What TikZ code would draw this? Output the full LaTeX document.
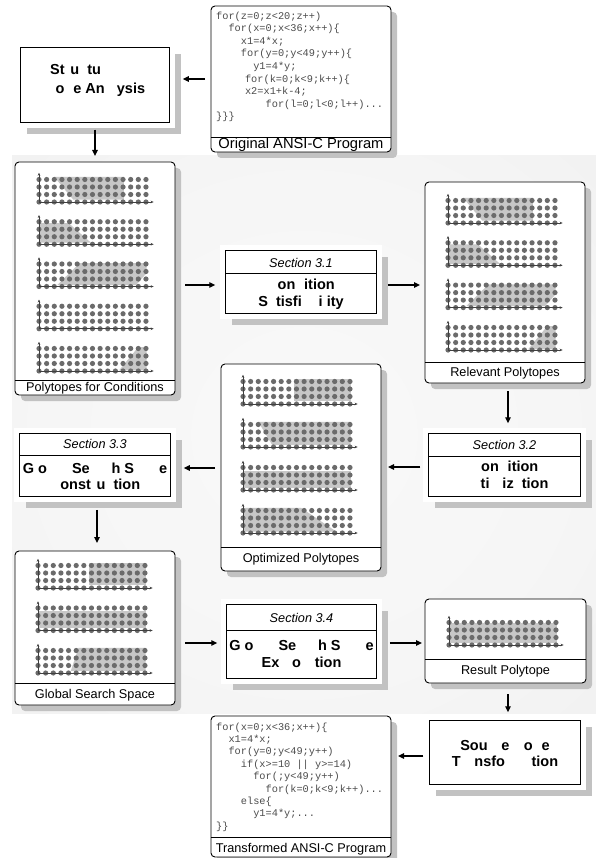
\documentclass[tikz,border=0pt]{standalone}
\usepackage{fontspec}
\setmainfont{Liberation Sans}
\setmonofont{Liberation Mono}
\usetikzlibrary{arrows.meta,shadows}

\definecolor{dotgray}{gray}{0.42}
\definecolor{axisgray}{gray}{0.25}
\definecolor{fillgray}{gray}{0.78}
\definecolor{shadowgray}{gray}{0.76}
\definecolor{codegray}{gray}{0.3}

\pgfdeclareradialshading{panelshade}{\pgfpoint{0bp}{0bp}}{%
  color(0bp)=(gray!5); color(22bp)=(gray!7); color(50bp)=(gray!14); color(72bp)=(gray!19)}

% letters the figure leaves out keep their width
\newcommand{\miss}[1]{\phantom{#1}}

% axis x, bottom row y, shaded polygon (columns, rows)
\newcommand{\polytope}[3]{%
  \begin{scope}[shift={(#1,#2)}, x=7.64pt, y=7.5pt]
    \ifx\relax#3\relax\else\fill[fillgray] #3 -- cycle;\fi
    \foreach \pc in {0,...,14}
      \foreach \pr in {0,...,3}
        \fill[dotgray] (\pc,\pr) circle (2.6pt);
    \draw[axisgray, line width=0.8pt, -{Stealth[length=3pt,width=2.6pt]}] (0,0) -- (15,0);
    \draw[axisgray, line width=0.8pt, -{Stealth[length=3pt,width=2.6pt]}] (0,0) -- (0,3.9);
  \end{scope}}

\tikzset{
  panel/.style={draw, line width=0.9pt, rounded corners=4pt, fill=white, inner sep=0pt, outer sep=0pt,
    drop shadow={shadow xshift=6pt, shadow yshift=-6pt, fill=shadowgray, opacity=1}},
  secbox/.style={draw, double, double distance=4.6pt, line width=0.9pt, fill=white, inner sep=0pt, outer sep=0pt,
    drop shadow={shadow xshift=9pt, shadow yshift=-9pt, fill=shadowgray, opacity=1}},
  lbl/.style={font=\fontsize{12.7}{15}\selectfont, inner sep=0pt},
  sect/.style={font=\fontsize{12.7}{15}\selectfont\itshape, inner sep=0pt},
  bold/.style={font=\fontsize{14.5}{16.5}\selectfont\bfseries, align=center, inner sep=0pt},
  code/.style={font=\fontsize{10.3}{12.6}\selectfont\ttfamily, text=codegray, align=left, inner sep=0pt, anchor=north west},
  sep/.style={line width=0.9pt},
  arr/.style={line width=1.3pt, -{Triangle[length=6pt,width=5.5pt]}}
}

\begin{document}
\begin{tikzpicture}[x=1pt, y=-1pt]
\useasboundingbox (0,0) rectangle (596,858);
% grey panel behind the polytope stages
\shade[shading=panelshade] (12,156) rectangle (596,713);

% Original program
\node[panel, minimum width=180pt, minimum height=146pt] (orig) at (301,79) {};
\draw[sep] (orig.west |- 0,137) -- (orig.east |- 0,137);
\node[code] (orig-code) at (216,11.5) {for(z=0;z<20;z++)\\
\hspace*{1.2em}for(x=0;x<36;x++)\{\\
\hspace*{2.4em}x1=4*x;\\
\hspace*{2.4em}for(y=0;y<49;y++)\{\\
\hspace*{3.6em}y1=4*y;\\
\hspace*{2.8em}for(k=0;k<9;k++)\{\\
\hspace*{2.8em}x2=x1+k-4;\\
\hspace*{4.8em}for(l=0;l<0;l++)...\\
\}\}\}};
\node[lbl, font=\fontsize{14.7}{16}\selectfont] (orig-l) at (301,145) {Original ANSI-C Program};

% Structural code analysis
\node[secbox, minimum width=154.5pt, minimum height=80.5pt] (sca) at (95,85) {};
\node[bold, align=left, anchor=west, font=\fontsize{14.5}{19}\selectfont\bfseries] (sca-t) at (45,80)
  {\hspace*{5pt}St\miss{r}u\miss{c}tu\miss{ral}\\ \miss{C}o\miss{d}e An\miss{al}ysis};

% Polytopes for conditions
\node[panel, minimum width=160pt, minimum height=233pt] (cond) at (95,278.5) {};
\draw[sep] (cond.west |- 0,380) -- (cond.east |- 0,380);
\polytope{39}{202}{(2,3.35) -- (11.1,3.35) -- (11.1,0.3) -- (4.5,0.3)}
\polytope{39}{244.25}{(0,0.2) -- (0,2.8) -- (3.9,2.8) -- (6.8,0.2)}
\polytope{39}{286.5}{(2.4,0.2) -- (5.3,3.1) -- (14.1,3.1) -- (14.1,1.8) -- (12.7,0.2)}
\polytope{39}{328.75}{}
\polytope{39}{371}{(10.5,0.1) -- (13,3.2) -- (14.1,3.2) -- (14.1,0.1)}
\node[lbl] (cond-l) at (95,388) {Polytopes for Conditions};

% Section 3.1
\node[secbox, minimum width=156.5pt, minimum height=68.5pt] (s31) at (301,282) {};
\draw[sep] (225,273) -- (377,273);
\node[sect] (s31-h) at (301,263) {Section 3.1};
\node[bold] (s31-t) at (301,294.5) {\miss{C}on\miss{d}ition\\ S\miss{a}tisfi\miss{ab}i\miss{l}ity};

% Relevant polytopes
\node[panel, minimum width=160pt, minimum height=201pt] (relv) at (505,282.5) {};
\draw[sep] (relv.west |- 0,362) -- (relv.east |- 0,362);
\polytope{448}{223}{(2,3.35) -- (11.1,3.35) -- (11.1,0.3) -- (4.5,0.3)}
\polytope{448}{265.3}{(0,0.2) -- (0,2.8) -- (3.9,2.8) -- (6.8,0.2)}
\polytope{448}{307.6}{(2.4,0.2) -- (5.3,3.1) -- (14.1,3.1) -- (14.1,1.8) -- (12.7,0.2)}
\polytope{448}{350}{(10.5,0.1) -- (13,3.2) -- (14.1,3.2) -- (14.1,0.1)}
\node[lbl] (relv-l) at (505,373) {Relevant Polytopes};

% Section 3.2
\node[secbox, minimum width=157.5pt, minimum height=68.5pt] (s32) at (504.5,465) {};
\draw[sep] (429,456) -- (580,456);
\node[sect] (s32-h) at (504.5,445) {Section 3.2};
\node[bold] (s32-t) at (504.5,476) {\miss{C}on\miss{d}ition\\ \miss{Op}ti\miss{m}iz\miss{a}tion};

% Optimized polytopes
\node[panel, minimum width=160pt, minimum height=207pt] (opt) at (301,467.5) {};
\draw[sep] (opt.west |- 0,547) -- (opt.east |- 0,547);
\polytope{243}{404}{(6.7,0.4) -- (14.1,0.4) -- (14.1,3.35) -- (6.7,3.35)}
\polytope{243}{447}{(2,3.35) -- (14.1,3.35) -- (14.1,0.3) -- (3.8,0.3)}
\polytope{243}{490}{(0,0.3) -- (14.1,0.3) -- (14.1,2.5) -- (0,2.5)}
\polytope{243}{533}{(0,0.2) -- (12.2,0.2) -- (7.6,3.35) -- (0,3.35)}
\node[lbl] (opt-l) at (301,559) {Optimized Polytopes};

% Section 3.3
\node[secbox, minimum width=156.5pt, minimum height=68.5pt] (s33) at (95,465) {};
\draw[sep] (20,455) -- (171,455);
\node[sect] (s33-h) at (95,444) {Section 3.3};
\node[bold] (s33-t) at (95,476.5) {G\miss{l}o\miss{bal} Se\miss{arc}h S\miss{pac}e\\ \miss{C}onst\miss{r}u\miss{c}tion};

% Global search space
\node[panel, minimum width=160pt, minimum height=154pt] (glob) at (95,628) {};
\draw[sep] (glob.west |- 0,683) -- (glob.east |- 0,683);
\polytope{38}{588}{(6.7,0.4) -- (14.1,0.4) -- (14.1,3.35) -- (6.7,3.35)}
\polytope{38}{630.5}{(0,0.3) -- (14.1,0.3) -- (14.1,2.6) -- (0,2.6)}
\polytope{38}{673}{(4.3,0.3) -- (5.3,3.35) -- (14.1,3.35) -- (14.1,0.3)}
\node[lbl] (glob-l) at (95,695) {Global Search Space};

% Section 3.4
\node[secbox, minimum width=155.5pt, minimum height=79.5pt] (s34) at (301.5,641.5) {};
\draw[sep] (226,630) -- (377,630);
\node[sect] (s34-h) at (301.5,618) {Section 3.4};
\node[bold] (s34-t) at (301.5,655) {G\miss{l}o\miss{bal} Se\miss{arc}h S\miss{pac}e\\ Ex\miss{pl}o\miss{ra}tion};

% Result polytope
\node[panel, minimum width=161pt, minimum height=84pt] (res) at (505.5,641) {};
\draw[sep] (res.west |- 0,659) -- (res.east |- 0,659);
\polytope{449}{645}{(0,0.3) -- (14.1,0.3) -- (14.1,2.9) -- (0,2.9)}
\node[lbl] (res-l) at (505.5,671.5) {Result Polytope};

% Source code transformation
\node[secbox, minimum width=156.5pt, minimum height=69.5pt] (sct) at (505,752.5) {};
\node[bold] (sct-t) at (505,753.5) {Sou\miss{rc}e \miss{C}o\miss{d}e\\ T\miss{ra}nsfo\miss{rma}tion};

% Transformed program
\node[panel, minimum width=180pt, minimum height=141pt] (trans) at (301,786.5) {};
\draw[sep] (trans.west |- 0,837) -- (trans.east |- 0,837);
\node[code, font=\fontsize{10.3}{12.4}\selectfont\ttfamily] (trans-code) at (216,722.5) {for(x=0;x<36;x++)\{\\
\hspace*{1.2em}x1=4*x;\\
\hspace*{1.2em}for(y=0;y<49;y++)\\
\hspace*{2.4em}if(x>=10 || y>=14)\\
\hspace*{3.6em}for(;y<49;y++)\\
\hspace*{4.8em}for(k=0;k<9;k++)...\\
\hspace*{2.4em}else\{\\
\hspace*{3.6em}y1=4*y;...\\
\}\}};
\node[lbl] (trans-l) at (301,849.5) {Transformed ANSI-C Program};

% flow
\draw[arr, shorten <=6pt, shorten >=10.5pt] (orig.west) -- (orig.west -| sca.east);
\draw[arr, shorten <=4.5pt, shorten >=6pt] (sca.south) -- (cond.north);
\draw[arr, shorten <=10pt, shorten >=7.5pt] ([yshift=-3pt]s31.west -| cond.east) -- ([yshift=-3pt]s31.west);
\draw[arr, shorten <=8.5pt, shorten >=5pt] ([yshift=-3pt]s31.east) -- ([yshift=-3pt]s31.east -| relv.west);
\draw[arr, shorten <=8pt, shorten >=7.5pt] ([xshift=3pt]relv.south) -- ([xshift=3pt]relv.south |- s32.north);
\draw[arr, shorten <=5.5pt, shorten >=7pt] ([yshift=-2pt]s32.west) -- ([yshift=-2pt]s32.west -| opt.east);
\draw[arr, shorten <=6pt, shorten >=10.5pt] ([yshift=-3pt]s33.east -| opt.west) -- ([yshift=-3pt]s33.east);
\draw[arr, shorten <=10.5pt, shorten >=8pt] ([xshift=2pt]s33.south) -- ([xshift=2pt]s33.south |- glob.north);
\draw[arr, shorten <=10pt, shorten >=6.5pt] ([yshift=-1.5pt]s34.west -| glob.east) -- ([yshift=-1.5pt]s34.west);
\draw[arr, shorten <=10.5pt, shorten >=3pt] ([yshift=-1.5pt]s34.east) -- ([yshift=-1.5pt]s34.east -| res.west);
\draw[arr, shorten <=11pt, shorten >=5.5pt] ([xshift=2.5pt]res.south) -- ([xshift=2.5pt]res.south |- sct.north);
\draw[arr, shorten <=3.5pt, shorten >=7pt] ([yshift=-3.5pt]sct.west) -- ([yshift=-3.5pt]sct.west -| trans.east);
\end{tikzpicture}
\end{document}
